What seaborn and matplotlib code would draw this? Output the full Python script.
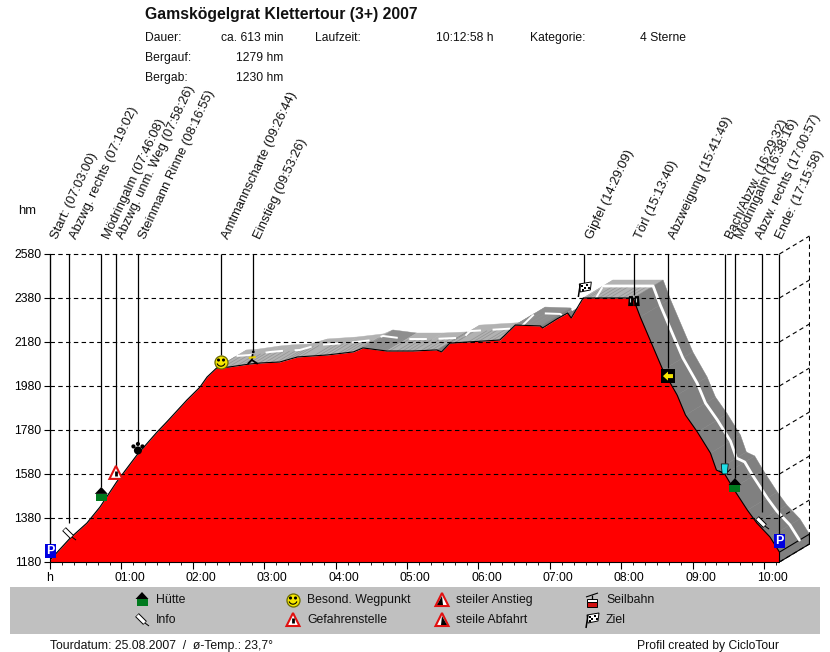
import numpy as np
import pandas as pd
import seaborn as sns
import matplotlib
matplotlib.use("Agg")
import matplotlib.pyplot as plt
from matplotlib.transforms import ScaledTranslation

# ---------- data ----------
profile_min = [0, 17, 31, 42, 56, 73, 90, 98, 115, 126, 132, 140, 150, 168, 178, 193, 208, 233, 255, 263,
               283, 305, 325, 329, 336, 378, 391, 412, 414, 426, 435, 438, 448, 490, 496, 515, 527, 534,
               544, 555, 560, 567, 574, 586, 594, 605, 613]
profile_hm = [1189, 1289, 1357, 1430, 1544, 1666, 1771, 1816, 1916, 1975, 2021, 2062, 2066, 2080, 2085, 2089,
              2112, 2121, 2135, 2153, 2139, 2139, 2144, 2135, 2175, 2189, 2257, 2253, 2244, 2285, 2312, 2289,
              2380, 2380, 2294, 2053, 1939, 1848, 1771, 1675, 1598, 1580, 1516, 1416, 1357, 1294, 1225]
way_labels = ["Start: (07:03:00)", "Abzwg. rechts (07:19:02)", "Mödringalm (07:46:08)", "Abzwg. unm. Weg (07:58:26)",
              "Steinmann Rinne (08:16:55)", "Amtmannscharte (09:26:44)", "Einstieg (09:53:26)", "Gipfel (14:29:09)",
              "Törl (15:13:40)", "Abzweigung (15:41:49)", "Bach/Abzw. (16:29:32)", "Mödringalm (16:38:16)",
              "Abzw. rechts (17:00:57)", "Ende: (17:15:58)"]
way_min = [0, 16.0, 43.1, 55.4, 73.9, 143.7, 170.4, 449, 490.7, 519.3, 567, 575.6, 598.3, 613]
way_hm = [1230, 1307, 1485, 1585, 1694, 2089, 2103, 2421, 2366, 2025, 1603, 1525, 1357, 1275]
way_icons = ["P", "info", "hut", "warn", "paw", "smile", "walk", "flag", "bino", "arrow", "cup", "hut", "info", "P"]
y_ticks = [1180, 1380, 1580, 1780, 1980, 2180, 2380, 2580]
x_ticks = [0, 60, 120, 180, 240, 300, 360, 420, 480, 540, 600]
x_tick_labels = ["h", "01:00", "02:00", "03:00", "04:00", "05:00", "06:00", "07:00", "08:00", "09:00", "10:00"]
legend_names = ["Hütte", "Info", "Besond. Wegpunkt", "Gefahrenstelle", "steiler Anstieg", "steile Abfahrt", "Seilbahn", "Ziel"]
legend_icons = ["hut", "info", "smile", "warn", "up", "down", "lift", "flag"]

# ---------- set-up ----------
sns.set_theme(style="white")
plt.rcParams["font.family"] = ["Liberation Sans", "DejaVu Sans"]
W, H = 830, 652
fig = plt.figure(figsize=(W / 100, H / 100), dpi=100, facecolor="white")
PX_MIN, PX_HM = 1.19, 44 / 200
X0, X1, Y0, Y1 = 50, 810, 562, 235
ax = fig.add_axes([X0 / W, 1 - Y0 / H, (X1 - X0) / W, (Y0 - Y1) / H], zorder=1)
ax.set_xlim(0, (X1 - X0) / PX_MIN)
ax.set_ylim(1180, 1180 + (Y0 - Y1) / PX_HM)
ax.patch.set_alpha(0)
END = 613
TOP = 2580
DX, DE = 30 / PX_MIN, 18 / PX_HM

t = np.array(profile_min, float)
e = np.array(profile_hm, float)

# road band behind the profile
for i in range(len(t) - 1):
    slope = (e[i + 1] - e[i]) / max(t[i + 1] - t[i], 1e-6)
    col = "#808080" if slope < -1.5 else ("#8e8e8e" if slope < -0.1 else "#b2b2b2")
    ax.fill([t[i], t[i + 1], t[i + 1] + DX, t[i] + DX],
            [e[i], e[i + 1], e[i + 1] + DE, e[i] + DE], color=col, lw=0.3, zorder=1)
    if slope >= -1.5 and t[i] > 130:
        n = max(int((t[i + 1] - t[i]) / 2.2), 1)
        for f in np.linspace(0, 1, n, endpoint=False):
            tt = t[i] + f * (t[i + 1] - t[i])
            ee = e[i] + f * (e[i + 1] - e[i])
            if int(tt) % 5 < 2:
                ax.plot([tt, tt + DX * 0.62], [ee, ee + DE * 0.62], color="#939393", lw=0.5, zorder=1.1)

# white centre line of the road
flat = t >= 140
mid = pd.DataFrame({"t": t[flat] + DX * 2 / 3, "e": e[flat] + DE * 2 / 3})
sns.lineplot(data=mid[mid.t <= 466], x="t", y="e", color="white", lw=1.4, ax=ax, zorder=1.3,
             linestyle=(0, (9, 6)), errorbar=None, sort=False)
sns.lineplot(data=mid[mid.t >= 460], x="t", y="e", color="white", lw=2, ax=ax, zorder=1.3,
             errorbar=None, sort=False)

# end slab
ax.fill([END, END + DX, END + DX, END], [e[-1], e[-1] + DE, 1180 + DE, 1180],
        facecolor="#808080", edgecolor="black", lw=0.8, zorder=1.2)

# red profile
ax.fill_between(t, e, 1180, color="#ff0000", lw=0, zorder=2)
sns.lineplot(x=t, y=e, color="black", lw=0.8, ax=ax, zorder=2.1, errorbar=None, sort=False)
ax.plot([END, END], [1180, e[-1]], color="black", lw=0.8, zorder=2.1)

# grid with back wall
dash = (0, (4, 3))
for v in y_ticks[1:]:
    ax.plot([0, END], [v, v], color="black", lw=0.8, ls=dash, zorder=3)
for v in y_ticks:
    ax.plot([END, END + DX], [v, v + DE], color="black", lw=0.8, ls=dash, zorder=3)
ax.plot([END + DX, END + DX], [1180 + DE, TOP + DE], color="black", lw=0.8, ls=dash, zorder=3)

# axes
for s in ["top", "right"]:
    ax.spines[s].set_visible(False)
ax.spines["left"].set_bounds(1180, TOP)
ax.spines["bottom"].set_bounds(0, END)
ax.spines["left"].set_color("black")
ax.spines["bottom"].set_color("black")
ax.spines["left"].set_linewidth(0.8)
ax.spines["bottom"].set_linewidth(0.8)
ax.set_yticks(y_ticks)
ax.set_yticklabels([str(v) for v in y_ticks], fontsize=8.8, color="black")
ax.set_xticks(x_ticks)
ax.set_xticklabels(x_tick_labels, fontsize=8.8, color="black")
ax.set_xticks(np.arange(0, END + 1, 10), minor=True)
ax.tick_params(axis="y", length=4, width=0.8, color="black", left=True, pad=2)
ax.tick_params(axis="x", which="major", length=5, width=0.8, color="black", bottom=True, pad=2.5)
ax.tick_params(axis="x", which="minor", length=2.5, width=0.6, color="black", bottom=True)
ax.set_xlabel("")
ax.set_ylabel("")
shift = ScaledTranslation(8 / 100, 0, fig.dpi_scale_trans)
for lab in ax.get_xticklabels()[1:]:
    lab.set_transform(lab.get_transform() + shift)

# ---------- overlay in pixel space ----------
ov = fig.add_axes([0, 0, 1, 1], zorder=2)
ov.set_xlim(0, W)
ov.set_ylim(H, 0)
ov.axis("off")
ov.patch.set_alpha(0)


def poly(xs, ys, fc, ec="none", lw=0.0, z=5):
    ov.fill(xs, ys, facecolor=fc, edgecolor=ec, lw=lw, zorder=z)


def line(xs, ys, c="black", lw=1.0, z=6):
    ov.plot(xs, ys, color=c, lw=lw, zorder=z, solid_capstyle="butt")


def dot(x, y, s, fc="black", ec="none", lw=0.0, z=6):
    ov.scatter([x], [y], s=s, facecolor=fc, edgecolor=ec, linewidth=lw, zorder=z)


def icon(kind, x, y):
    if kind == "P":
        poly([x - 5.5, x + 5.5, x + 5.5, x - 5.5], [y - 7, y - 7, y + 7, y + 7], "#0000e0")
        ov.text(x, y - 0.5, "P", color="white", fontsize=9, fontweight="bold", ha="center", va="center", zorder=7)
    elif kind == "info":
        line([x - 5, x + 3], [y - 5, y + 3], "black", 3.8)
        line([x - 4.6, x + 2.6], [y - 4.6, y + 2.6], "white", 2.4, z=7)
        line([x + 3, x + 7], [y + 3, y + 6], "black", 0.7)
    elif kind == "hut":
        poly([x - 6.5, x, x + 6.5], [y - 1, y - 8, y - 1], "black")
        poly([x - 5.5, x + 5.5, x + 5.5, x - 5.5], [y - 1, y - 1, y + 6, y + 6], "#007a1e")
    elif kind == "warn":
        poly([x - 6.5, x, x + 6.5], [y + 6, y - 7, y + 6], "white", "#e01010", 1.5)
        line([x, x], [y - 2, y + 3], "black", 2)
    elif kind == "up" or kind == "down":
        poly([x - 6.5, x, x + 6.5], [y + 6, y - 7, y + 6], "white", "#e01010", 1.5)
        if kind == "up":
            poly([x - 5, x, x + 1], [y + 5, y - 4, y + 5], "black", z=6)
        else:
            poly([x + 5, x, x - 1], [y + 5, y - 4, y + 5], "black", z=6)
    elif kind == "paw":
        dot(x, y + 1.5, 34)
        dot(x - 4.5, y - 2.5, 9)
        dot(x, y - 5, 9)
        dot(x + 4.5, y - 2.5, 9)
    elif kind == "smile":
        dot(x, y, 88, "#f5e600", "#6a6a00", 0.9)
        dot(x - 2.5, y - 2, 5)
        dot(x + 2.5, y - 2, 5)
        a = np.radians(np.arange(20, 161, 20))
        line(x + 4.2 * np.cos(a), y + 4.2 * np.sin(a), "black", 0.8)
    elif kind == "walk":
        line([x, x - 1, x - 5], [y - 5, y + 1, y + 5], "black", 1.3)
        line([x - 1, x + 5], [y + 1, y + 5], "black", 1.3)
        line([x - 4, x + 3], [y - 1, y - 2], "#e8d000", 1.5, z=7)
        dot(x + 0.5, y - 7, 4)
    elif kind == "flag":
        line([x - 6, x - 4], [y + 8, y - 5], "black", 1.1)
        poly([x - 5, x + 7, x + 6, x - 4], [y - 5, y - 7, y + 1, y + 3], "white", "black", 0.7)
        for cx, cy in [(-2, -2.8), (2.5, -3.8), (0.2, -0.6), (4.5, -1.4), (-1.6, 1.4)]:
            ov.scatter([x + cx], [y + cy], s=3.5, marker="s", color="black", lw=0, zorder=7)
    elif kind == "bino":
        for sx in (-3, 3):
            poly([x + sx - 2, x + sx + 2, x + sx + 2.8, x + sx - 2.8], [y - 5, y - 5, y + 5, y + 5], "black")
            line([x + sx - 0.5, x + sx - 0.5], [y - 3, y + 1], "#c8c8c8", 0.8, z=7)
    elif kind == "arrow":
        ov.scatter([x], [y], s=98, marker="s", color="black", lw=0, zorder=5)
        poly([x - 5, x, x, x + 5, x + 5, x, x], [y, y - 4.5, y - 2, y - 2, y + 2, y + 2, y + 4.5], "#f5e600", z=6)
    elif kind == "cup":
        poly([x - 3.5, x + 3.5, x + 2.5, x - 2.5], [y - 5, y - 5, y + 5, y + 5], "#20e0e8", "black", 0.5)
        line([x - 6, x - 3], [y + 2, y + 3], "black", 0.7)
        line([x + 3, x + 6], [y + 3, y], "black", 0.7)
    elif kind == "lift":
        line([x - 6, x + 6], [y - 3, y - 7], "black", 0.8)
        line([x, x], [y - 5, y - 1], "black", 0.9)
        poly([x - 5, x + 5, x + 5, x - 5], [y - 1, y - 1, y + 2, y + 2], "white", "black", 0.7)
        poly([x - 5, x + 5, x + 5, x - 5], [y + 2, y + 2, y + 7, y + 7], "#d01010", "black", 0.7)


# way-points: icon, stem, rotated label
STEM = {"P": 7, "info": 11, "hut": 8, "warn": 7, "paw": 7, "smile": 7, "walk": 8, "flag": 6, "bino": 6, "arrow": 8,
        "cup": 6}
label_shift = [5, 5, 5, 5, 5, 5, 5, 5, 5, 5, 5, 5, -2, 0]
fig.canvas.draw()
for lab, m, h, k, ls_ in zip(way_labels, way_min, way_hm, way_icons, label_shift):
    dx_, dy_ = ax.transData.transform((m, h))
    px, py = dx_, H - dy_
    ax_top = H - ax.transData.transform((m, TOP))[1]
    line([px, px], [ax_top, py - STEM[k]], "black", 0.9, z=4)
    icon(k, px, py)
    ov.text(px + ls_, 238, lab, rotation=65, rotation_mode="anchor", ha="left", va="center", fontsize=9.4,
            color="#111111", zorder=8)

# header
ov.text(145, 14, "Gamskögelgrat Klettertour (3+) 2007", fontsize=11.35, fontweight="bold", color="#111111",
        ha="left", va="center")
head = [(145, 38, "Dauer:"), (221, 38, "ca. 613 min"), (315, 38, "Laufzeit:"), (436, 38, "10:12:58 h"),
        (530, 38, "Kategorie:"), (640, 38, "4 Sterne"), (145, 58, "Bergauf:"), (236, 58, "1279 hm"),
        (145, 78, "Bergab:"), (236, 78, "1230 hm")]
for x_, y_, s_ in head:
    ov.text(x_, y_, s_, fontsize=8.7, color="#111111", ha="left", va="center")
ov.text(18, 211, "hm", fontsize=9.4, color="#111111", ha="left", va="center")

# legend box
poly([10, 820, 820, 10], [587, 587, 634, 634], "#c0c0c0", z=3)
leg_x = [142, 142, 293, 293, 442, 442, 592, 592]
leg_y = [600, 620, 600, 620, 600, 620, 600, 620]
for nm, kd, x_, y_ in zip(legend_names, legend_icons, leg_x, leg_y):
    icon(kd, x_, y_)
    ov.text(x_ + 14, y_, nm, fontsize=8.8, color="#111111", ha="left", va="center", zorder=8)

# footer
ov.text(50, 646, "Tourdatum: 25.08.2007  /  ø-Temp.: 23,7°", fontsize=8.8, color="#111111", ha="left", va="center")
ov.text(637, 646, "Profil created by CicloTour", fontsize=8.7, color="#111111", ha="left", va="center")

fig.savefig("out.png", dpi=100, facecolor="white")
